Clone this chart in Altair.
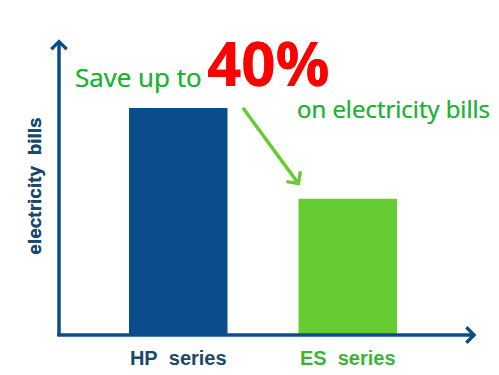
import altair as alt
import pandas as pd

# Bar data: relative electricity bills of the two product lines
series = ["HP series", "ES series"]
bills = [100, 60]
labels = ["HP\u00a0 series", "ES\u00a0 series"]
bar_colors = ["#0a4d8c", "#66cc33"]
label_colors = ["#17496b", "#3db336"]

W, H = 408, 295

df = pd.DataFrame({"series": series, "bills": bills, "label": labels, "label_color": label_colors})

x_scale = alt.Scale(domain=series, paddingInner=0.419, paddingOuter=0.413)
y_scale = alt.Scale(domain=[0, 130])

base = alt.Chart(df)

bars = base.mark_bar().encode(
    x=alt.X("series:N", scale=x_scale, axis=None),
    y=alt.Y("bills:Q", scale=y_scale, axis=None),
    color=alt.Color("series:N", scale=alt.Scale(domain=series, range=bar_colors), legend=None),
)

cat_labels = base.mark_text(
    font="Liberation Sans", fontWeight="bold", fontSize=20, baseline="alphabetic", align="center"
).encode(
    x=alt.X("series:N", scale=x_scale, axis=None),
    y=alt.value(H + 30),
    text="label:N",
    color=alt.Color("label_color:N", scale=None),
)

axis_color = "#0a4d8c"
y_line = alt.Chart(df).mark_rule(color=axis_color, strokeWidth=3).encode(
    x=alt.value(0), y=alt.value(1), y2=alt.value(H + 1)
)
x_line = alt.Chart(df).mark_rule(color=axis_color, strokeWidth=3).encode(
    x=alt.value(-1.5), x2=alt.value(416), y=alt.value(H)
)

chevron = "M-1,1L0,0L1,1"
y_head = alt.Chart(df).mark_point(
    shape=chevron, filled=False, color=axis_color, strokeWidth=3, size=230, opacity=1
).encode(x=alt.value(0), y=alt.value(1.5))
x_head = alt.Chart(df).mark_point(
    shape=chevron, filled=False, color=axis_color, strokeWidth=3, size=230, opacity=1, angle=90
).encode(x=alt.value(415), y=alt.value(H))

y_title = alt.Chart(df).mark_text(
    text="electricity\u00a0 bills", font="Liberation Sans", fontWeight="bold", fontSize=19,
    angle=270, align="center", baseline="middle", color="#18486b"
).encode(x=alt.value(-24), y=alt.value(146))

green = "#1cb533"
save_txt = alt.Chart(df).mark_text(
    text="Save up to", font="Open Sans", fontSize=26, align="left", baseline="alphabetic", color=green
).encode(x=alt.value(16), y=alt.value(47))
pct_txt = alt.Chart(df).mark_text(
    text="40%", font="Open Sans", fontWeight="bold", fontSize=60, align="left",
    baseline="alphabetic", color="#ff0000"
).encode(x=alt.value(148), y=alt.value(46))
on_txt = alt.Chart(df).mark_text(
    text="on electricity bills", font="Open Sans", fontSize=24, align="left",
    baseline="alphabetic", color=green
).encode(x=alt.value(238), y=alt.value(78))

arrow_green = "#66cc33"
arrow_line = alt.Chart(df).mark_rule(color=arrow_green, strokeWidth=3).encode(
    x=alt.value(184), y=alt.value(68), x2=alt.value(239), y2=alt.value(143)
)
arrow_head = alt.Chart(df).mark_point(
    shape=chevron, filled=False, color=arrow_green, strokeWidth=3, size=290, opacity=1, angle=144
).encode(x=alt.value(239.5), y=alt.value(143.5))

chart = alt.layer(
    bars, cat_labels, y_line, x_line, y_head, x_head, y_title,
    save_txt, pct_txt, on_txt, arrow_line, arrow_head
).properties(
    width=W, height=H,
    autosize=alt.AutoSizeParams(type="none"),
    padding={"left": 59, "top": 40, "right": 32, "bottom": 40},
).configure_view(stroke=None)

chart.save("out.html", embed_options={"renderer": "svg", "actions": False})
